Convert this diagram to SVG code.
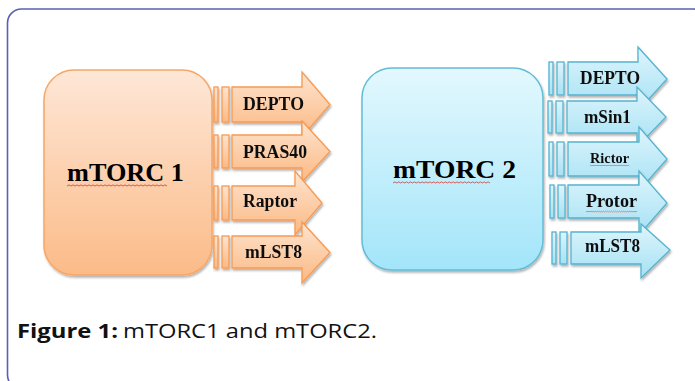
<svg xmlns="http://www.w3.org/2000/svg" xmlns:xlink="http://www.w3.org/1999/xlink" width="695" height="381" viewBox="0 0 695 381">
<defs>
<linearGradient id="gBoxO" x1="0" y1="0" x2="0" y2="1"><stop offset="0" stop-color="#fee7d7"/><stop offset="1" stop-color="#fbbb88"/></linearGradient>
<linearGradient id="gBoxB" x1="0" y1="0" x2="0" y2="1"><stop offset="0" stop-color="#e3f8fe"/><stop offset="1" stop-color="#a3e5f9"/></linearGradient>
<linearGradient id="gArrO" x1="0" y1="0" x2="0" y2="1"><stop offset="0" stop-color="#fee4d0"/><stop offset="1" stop-color="#fbb983"/></linearGradient>
<linearGradient id="gArrB" x1="0" y1="0" x2="0" y2="1"><stop offset="0" stop-color="#ddf5fd"/><stop offset="1" stop-color="#a6e1f3"/></linearGradient>
<filter id="sh" x="-10%" y="-10%" width="130%" height="130%"><feDropShadow dx="1" dy="2" stdDeviation="1.2" flood-color="#000" flood-opacity="0.3"/></filter>
<path id="wave" d="M0,0 l2,-1.1 2,1.1 2,-1.1 2,1.1 2,-1.1 2,1.1 2,-1.1 2,1.1 2,-1.1 2,1.1 2,-1.1 2,1.1 2,-1.1 2,1.1 2,-1.1 2,1.1 2,-1.1 2,1.1 2,-1.1 2,1.1 2,-1.1 2,1.1 2,-1.1 2,1.1 2,-1.1 2,1.1 2,-1.1 2,1.1 2,-1.1 2,1.1 2,-1.1 2,1.1 2,-1.1 2,1.1 2,-1.1 2,1.1 2,-1.1 2,1.1 2,-1.1 2,1.1 2,-1.1 2,1.1 2,-1.1 2,1.1 2,-1.1 2,1.1 2,-1.1 2,1.1 2,-1.1 2,1.1" fill="none" stroke="#d9362f" stroke-width="0.8"/>
</defs>
<style>
.frame{fill:none;stroke:#5a60b4;stroke-width:1.6}
.boxO{fill:url(#gBoxO);stroke:#f8a664;stroke-width:1.5}
.boxB{fill:url(#gBoxB);stroke:#62bdd7;stroke-width:1.5}
.arrO{fill:url(#gArrO);stroke:#f79a52;stroke-width:1.3}
.arrB{fill:url(#gArrB);stroke:#55b3cf;stroke-width:1.3}
.big{font-family:"Liberation Serif","Times New Roman",serif;font-weight:bold;font-size:25px;fill:#000}
.lbl{font-family:"Liberation Serif","Times New Roman",serif;font-weight:bold;font-size:18px;fill:#111}
.cap{font-family:"Open Sans","Liberation Sans",sans-serif;font-size:20px;fill:#111}
</style>
<rect class="frame" x="7.5" y="9" width="700" height="380" rx="14"/>

<g id="mtorc1">
<rect class="boxO" x="44" y="70" width="168" height="205" rx="30" filter="url(#sh)"/>
<text class="big" x="67" y="181" textLength="117" lengthAdjust="spacingAndGlyphs">mTORC 1</text>
<use xlink:href="#wave" transform="translate(67,186)"/>
</g>

<g id="mtorc2">
<rect class="boxB" x="362" y="68" width="181" height="202" rx="30" filter="url(#sh)"/>
<text class="big" x="393" y="178" textLength="123" lengthAdjust="spacingAndGlyphs">mTORC 2</text>
<use xlink:href="#wave" transform="translate(393,183) scale(0.97,1)"/>
</g>

<g id="c1-depto" filter="url(#sh)">
<rect class="arrO" x="214" y="87" width="4" height="35"/><rect class="arrO" x="222" y="87" width="7" height="35"/>
<path class="arrO" d="M232,87 H302 V72 L330,104.5 L302,137 V122 H232 Z"/>
<text class="lbl" x="243" y="110" textLength="61" lengthAdjust="spacingAndGlyphs">DEPTO</text>
</g>
<g id="c1-pras40" filter="url(#sh)">
<rect class="arrO" x="214" y="135" width="4" height="33"/><rect class="arrO" x="222" y="135" width="7" height="33"/>
<path class="arrO" d="M232,135 H302 V121 L330,151.5 L302,182 V168 H232 Z"/>
<text class="lbl" x="243" y="158" textLength="64" lengthAdjust="spacingAndGlyphs">PRAS40</text>
</g>
<g id="c1-raptor" filter="url(#sh)">
<rect class="arrO" x="214" y="186" width="4" height="34"/><rect class="arrO" x="222" y="186" width="7" height="34"/>
<path class="arrO" d="M232,186 H295 V171 L322,203 L295,235 V220 H232 Z"/>
<text class="lbl" x="243" y="207" textLength="54" lengthAdjust="spacingAndGlyphs">Raptor</text>
</g>
<g id="c1-mlst8" filter="url(#sh)">
<rect class="arrO" x="214" y="236" width="4" height="32"/><rect class="arrO" x="222" y="236" width="7" height="32"/>
<path class="arrO" d="M232,236 H302 V222 L330,252.5 L302,283 V268 H232 Z"/>
<text class="lbl" x="245" y="258" textLength="57" lengthAdjust="spacingAndGlyphs">mLST8</text>
</g>

<g id="c2-depto" filter="url(#sh)">
<rect class="arrB" x="549" y="62" width="4" height="33"/><rect class="arrB" x="557" y="62" width="7" height="33"/>
<path class="arrB" d="M568,62 H638 V47 L667,79 L638,111 V95 H568 Z"/>
<text class="lbl" x="580" y="84" textLength="60" lengthAdjust="spacingAndGlyphs">DEPTO</text>
</g>
<g id="c2-msin1" filter="url(#sh)">
<rect class="arrB" x="548" y="101" width="4" height="32"/><rect class="arrB" x="556" y="101" width="7" height="32"/>
<path class="arrB" d="M567,101 H637 V87 L666,117 L637,147 V133 H567 Z"/>
<text class="lbl" x="584" y="123" textLength="47" lengthAdjust="spacingAndGlyphs">mSin1</text>
</g>
<g id="c2-rictor" filter="url(#sh)">
<rect class="arrB" x="549" y="142" width="4" height="34"/><rect class="arrB" x="557" y="142" width="7" height="34"/>
<path class="arrB" d="M568,142 H639 V127 L667,159 L639,191 V176 H568 Z"/>
<text class="lbl" x="590" y="163" style="font-size:14.5px" textLength="39" lengthAdjust="spacingAndGlyphs">Rictor</text>
<use xlink:href="#wave" transform="translate(590,166) scale(0.39,0.8)"/>
</g>
<g id="c2-protor" filter="url(#sh)">
<rect class="arrB" x="550" y="185" width="4" height="33"/><rect class="arrB" x="558" y="185" width="7" height="33"/>
<path class="arrB" d="M568,185 H639 V171 L667,203 L639,235 V218 H568 Z"/>
<text class="lbl" x="586" y="207" textLength="51" lengthAdjust="spacingAndGlyphs">Protor</text>
<use xlink:href="#wave" transform="translate(586,212) scale(0.51,0.8)"/>
</g>
<g id="c2-mlst8" filter="url(#sh)">
<rect class="arrB" x="552" y="232" width="4" height="32"/><rect class="arrB" x="560" y="232" width="7" height="32"/>
<path class="arrB" d="M571,232 H641 V224 L670,250 L641,278 V264 H571 Z"/>
<text class="lbl" x="585" y="252" textLength="55" lengthAdjust="spacingAndGlyphs">mLST8</text>
</g>

<g id="caption">
<text class="cap" x="17" y="338" style="font-weight:bold" textLength="101" lengthAdjust="spacingAndGlyphs">Figure 1:</text>
<text class="cap" x="123" y="338" textLength="254" lengthAdjust="spacingAndGlyphs">mTORC1 and mTORC2.</text>
</g>
</svg>
